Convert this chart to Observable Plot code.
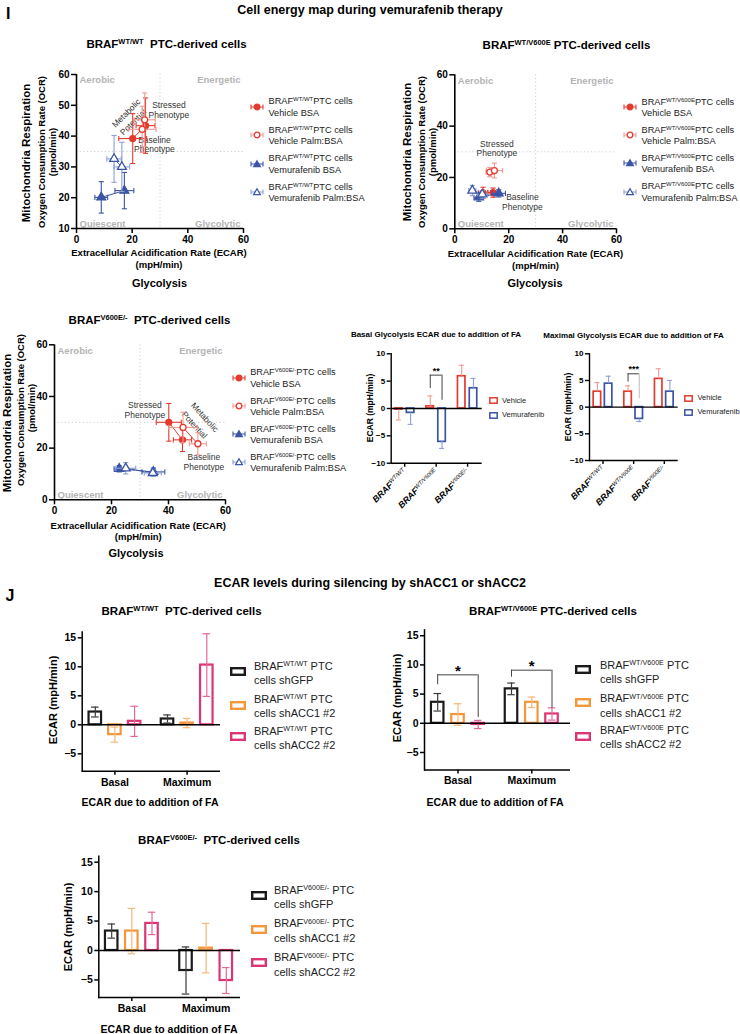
<!DOCTYPE html>
<html><head><meta charset="utf-8">
<script src="https://cdn.jsdelivr.net/npm/d3@7"></script>
<script src="https://cdn.jsdelivr.net/npm/@observablehq/plot@0.6"></script>
<style>
body{margin:0;background:#fff;font-family:"Liberation Sans",Arial,Helvetica,sans-serif;}
#fig{position:relative;width:740px;height:1034px;overflow:hidden;background:#fff;}
.t{position:absolute;white-space:nowrap;line-height:1;color:#000;}
.t sup{font-size:65%;vertical-align:baseline;position:relative;top:-0.5em;}
</style></head><body><div id="fig"></div>
<script>
// ================= DATA =================
// Panel I: cell energy maps (ECAR, OCR; mean ± SD), two states per series: baseline, stressed
const mapSeries = ["Vehicle BSA", "Vehicle Palm:BSA", "Vemurafenib BSA", "Vemurafenib Palm:BSA"];
const mapPhases = ["Baseline", "Stressed"];
// BRAF WT/WT
const wtEcar   = [[20.2, 24.8], [23.6, 24.5], [8.9, 17.2], [16.3, 13.5]];
const wtEcarSd = [[5.0, 3.4], [5.0, 3.8], [2.3, 3.4], [2.8, 2.6]];
const wtOcr    = [[39.2, 43.4], [42.2, 45.3], [20.1, 22.3], [30.0, 32.6]];
const wtOcrSd  = [[8.1, 9.0], [7.5, 8.7], [5.1, 5.9], [8.0, 7.6]];
// BRAF WT/V600E
const hetEcar   = [[10.5, 14.2], [13.0, 14.7], [8.9, 16.3], [6.5, 10.2]];
const hetEcarSd = [[1.8, 2.0], [1.4, 3.0], [1.8, 2.5], [1.3, 1.8]];
const hetOcr    = [[14.0, 14.1], [22.1, 22.7], [12.3, 13.8], [14.9, 13.4]];
const hetOcrSd  = [[2.2, 1.8], [1.8, 2.9], [1.6, 1.4], [2.0, 1.5]];
// BRAF V600E/-
const mutEcar   = [[40.1, 44.9], [45.1, 50.3], [22.7, 34.7], [25.0, 34.5]];
const mutEcarSd = [[4.4, 3.2], [5.0, 3.0], [1.8, 4.0], [3.5, 3.0]];
const mutOcr    = [[30.0, 23.2], [28.0, 21.7], [12.0, 10.8], [12.2, 10.4]];
const mutOcrSd  = [[7.3, 4.5], [5.9, 4.3], [1.2, 1.5], [2.2, 1.2]];

// Panel I: glycolysis ECAR change due to FA
const glyGroups = ["WT/WT", "WT/V600E", "V600E/-"];
const glySeries = ["Vehicle", "Vemurafenib"];
const basalVehicle = [-0.2, 0.4, 5.9];
const basalVehicleSd = [1.9, 1.9, 2.0];
const basalVemurafenib = [-0.8, -6.1, 3.7];
const basalVemurafenibSd = [2.1, 1.2, 1.8];
const maximalVehicle = [2.9, 2.9, 5.3];
const maximalVehicleSd = [1.7, 1.1, 1.9];
const maximalVemurafenib = [4.4, -2.2, 2.9];
const maximalVemurafenibSd = [1.4, 0.5, 2.1];
const basalSig = [{group: "WT/V600E", top: 6.1, lb: 3.65, rb: 1.5, label: "**"}];
const maximalSig = [{group: "WT/V600E", top: 6.25, lb: 4.7, rb: 1.56, label: "***"}];

// Panel J: ECAR due to FA during silencing (per series: [Basal, Maximum])
const faGroups = ["Basal", "Maximum"];
const shSeries = ["shGFP", "shACC1 #2", "shACC2 #2"];
const jWtMean  = [[2.2, 1.0], [-1.7, 0.3], [0.6, 10.3]];
const jWtSd    = [[0.85, 0.7], [1.3, 0.8], [2.6, 5.4]];
const jHetMean = [[3.6, 5.9], [1.5, 3.6], [-0.2, 1.6]];
const jHetSd   = [[1.5, 1.0], [1.85, 0.9], [0.7, 1.05]];
const jMutMean = [[3.3, -3.4], [3.3, 0.4], [4.6, -5.1]];
const jMutSd   = [[1.2, 4.0], [3.85, 4.2], [1.9, 2.2]];
const jHetSig  = [{group: "Basal", top: 8.3, lb: 6.6, rb: 1.0, label: "*"}, {group: "Maximum", top: 9.1, lb: 7.9, rb: 2.6, label: "*"}];

// ================= STYLE =================
const FONT = '"Liberation Sans", Arial, Helvetica, sans-serif';
const ns = "http://www.w3.org/2000/svg";
const RED = "#e53a2f", RED_L = "#f19a92", BLUE = "#3b54a5", BLUE_L = "#8e9fd5";
const mapColor = [RED, RED, BLUE, BLUE];
const mapErr = [RED, RED_L, BLUE, BLUE_L];
const mapFill = [RED, "white", BLUE, "white"];
const mapSymbol = ["circle", "circle", "triangle", "triangle"];
const shColor = ["#1b1b1b", "#f4963a", "#dc3575"];
const shErr = ["#3a3a3a", "#f6b878", "#e3689a"];
const baseStyle = {fontFamily: FONT, fontWeight: "bold", fontSize: "10px", color: "#000", background: "transparent", overflow: "visible"};

const fig = document.getElementById("fig");
function put(node, left, top) {
  node.style.position = "absolute"; node.style.left = left + "px"; node.style.top = top + "px";
  fig.appendChild(node); return node;
}
function label(html, x, y, o = {}) {
  const d = document.createElement("div");
  d.className = "t"; d.innerHTML = html;
  d.style.fontSize = (o.size || 10) + "px";
  d.style.fontWeight = o.weight || "normal";
  if (o.color) d.style.color = o.color;
  const a = o.anchor || "middle";
  const tx = a === "start" ? "0" : a === "end" ? "-100%" : "-50%";
  d.style.left = x + "px"; d.style.top = y + "px";
  d.style.transform = `translate(${tx},-50%)` + (o.rotate ? ` rotate(${o.rotate}deg)` : "");
  fig.appendChild(d);
}
function icon(svg, x, y, w, h) {
  const d = document.createElement("div");
  d.innerHTML = svg;
  d.style.width = w + "px"; d.style.height = h + "px"; d.style.lineHeight = "0";
  put(d, x, y - h / 2);
}
function supify(svg) {
  svg.querySelectorAll("text").forEach(t => {
    const s = t.textContent;
    if (!s.includes("^")) return;
    const [a, b] = s.split("^");
    while (t.firstChild) t.removeChild(t.firstChild);
    const t1 = document.createElementNS(ns, "tspan"); t1.textContent = a; t1.setAttribute("font-style", "italic");
    const t2 = document.createElementNS(ns, "tspan"); t2.textContent = b;
    t2.setAttribute("font-size", "64%"); t2.setAttribute("baseline-shift", "super");
    t2.setAttribute("font-style", "italic"); t2.setAttribute("font-weight", "normal");
    t.append(t1, t2);
  });
}
const capH = {draw(ctx, size) { const r = Math.sqrt(size / Math.PI); ctx.moveTo(-r, 0); ctx.lineTo(r, 0); }};
const capV = {draw(ctx, size) { const r = Math.sqrt(size / Math.PI); ctx.moveTo(0, -r); ctx.lineTo(0, r); }};

// ================= ENERGY MAP =================
function energyMap(c) {
  const rows = [];
  mapSeries.forEach((s, i) => mapPhases.forEach((p, j) => rows.push({si: i, series: s, phase: p,
    x: c.ecar[i][j], xsd: c.ecarSd[i][j], y: c.ocr[i][j], ysd: c.ocrSd[i][j]})));
  const quad = {text: d => d, fill: "#b4b4b4", fontWeight: "bold", fontSize: 9.5};
  const marks = [
    Plot.ruleX([30], {stroke: "#cfcfcf", strokeDasharray: "1.2,2.4"}),
    Plot.ruleY([c.midY], {stroke: "#cfcfcf", strokeDasharray: "1.2,2.4"}),
    Plot.text(["Aerobic"], {...quad, frameAnchor: "top-left", dx: 3, dy: 2}),
    Plot.text(["Energetic"], {...quad, frameAnchor: "top-right", dx: -3, dy: 2}),
    Plot.text(["Quiescent"], {...quad, frameAnchor: "bottom-left", dx: 3, dy: -2}),
    Plot.text(["Glycolytic"], {...quad, frameAnchor: "bottom-right", dx: -3, dy: -2}),
    Plot.text(c.notes, {x: "x", y: "y", text: "text", rotate: "rot", fontWeight: "normal", fontSize: 8.5, fill: "#333", lineHeight: 1.15})
  ];
  mapSeries.forEach((s, i) => {
    const d = rows.filter(r => r.si === i);
    const col = mapColor[i], e = mapErr[i];
    const ew = {stroke: e, strokeWidth: 1.1, fill: "none"};
    marks.push(
      Plot.line(d, {x: "x", y: "y", stroke: col, strokeWidth: 1}),
      Plot.link(d, {x1: r => r.x - r.xsd, x2: r => r.x + r.xsd, y1: "y", y2: "y", ...ew}),
      Plot.link(d, {x1: "x", x2: "x", y1: r => r.y - r.ysd, y2: r => r.y + r.ysd, ...ew}),
      Plot.dot(d, {x: r => r.x - r.xsd, y: "y", symbol: capV, r: 2.6, ...ew}),
      Plot.dot(d, {x: r => r.x + r.xsd, y: "y", symbol: capV, r: 2.6, ...ew}),
      Plot.dot(d, {x: "x", y: r => r.y - r.ysd, symbol: capH, r: 2.6, ...ew}),
      Plot.dot(d, {x: "x", y: r => r.y + r.ysd, symbol: capH, r: 2.6, ...ew}),
      Plot.dot(d, {x: "x", y: "y", symbol: mapSymbol[i], r: i < 2 ? 3.0 : 3.3, fill: mapFill[i], stroke: col, strokeWidth: 1.3})
    );
  });
  marks.push(
    Plot.ruleX([0], {stroke: "#000", strokeWidth: 1.6}),
    Plot.ruleY([c.yDomain[0]], {stroke: "#000", strokeWidth: 1.6}),
    Plot.axisX({ticks: [0, 20, 40, 60], tickSize: 5, tickPadding: 2, strokeWidth: 1.5, label: null, fontSize: 10}),
    Plot.axisY({ticks: c.yTicks, tickSize: 5, tickPadding: 2, strokeWidth: 1.5, label: null, fontSize: 10})
  );
  const svg = Plot.plot({width: c.width, height: c.height, marginLeft: c.mL, marginRight: c.mR, marginTop: c.mT, marginBottom: c.mB,
    x: {domain: [0, 60]}, y: {domain: c.yDomain}, style: baseStyle, marks});
  put(svg, c.left, c.top);
  // legend
  mapSeries.forEach((s, i) => {
    const y = c.legY[i];
    const col = mapColor[i], e = mapErr[i];
    const sym = i < 2
      ? `<circle cx="7" cy="5" r="2.8" fill="${mapFill[i]}" stroke="${col}" stroke-width="1.3"/>`
      : `<path d="M7,1.8L10.4,7.6H3.6Z" fill="${mapFill[i]}" stroke="${col}" stroke-width="1.2"/>`;
    icon(`<svg width="14" height="10"><path d="M1,5H13M1,2.6V7.4M13,2.6V7.4" stroke="${e}" stroke-width="1.1" fill="none"/>${sym}</svg>`, c.legX, y + 4.3, 14, 10);
    label(`BRAF<sup>${c.geno}</sup>PTC cells`, c.legX + 18.5, y, {size: 9.2, anchor: "start", color: "#222"});
    label(s, c.legX + 18.5, y + 11.3, {size: 9.2, anchor: "start", color: "#222"});
  });
}

// ================= GROUPED BARS =================
function groupedBars(c) {
  const n = c.centers.length;
  const step = (c.centers[n - 1] - c.centers[0]) / (n - 1);
  const range = [c.centers[0] - step / 2 - c.left, c.centers[n - 1] + step / 2 - c.left];
  const ins = (step - c.barW) / 2, capIns = (step - c.capW) / 2;
  const marks = [];
  c.series.forEach((s, k) => {
    const rows = c.groups.map((g, i) => ({group: g, v: s.values[i], sd: s.sd[i]}));
    const off = c.offsets[k];
    const hi = r => c.oneSided ? r.v + Math.sign(r.v) * r.sd : r.v + r.sd;
    const lo = r => c.oneSided ? r.v : r.v - r.sd;
    marks.push(
      Plot.barY(rows, {x: "group", y: "v", dx: off, insetLeft: ins, insetRight: ins, fill: "white", stroke: s.color, strokeWidth: c.barStroke}),
      Plot.ruleX(rows, {x: "group", y1: lo, y2: hi, dx: off, stroke: s.err, strokeWidth: c.errW}),
      Plot.tickY(rows, {x: "group", y: hi, dx: off, insetLeft: capIns, insetRight: capIns, stroke: s.err, strokeWidth: c.errW})
    );
    if (!c.oneSided) marks.push(Plot.tickY(rows, {x: "group", y: lo, dx: off, insetLeft: capIns, insetRight: capIns, stroke: s.err, strokeWidth: c.errW}));
  });
  (c.sig || []).forEach(b => {
    const d = [b];
    marks.push(
      Plot.ruleX(d, {x: "group", y1: "lb", y2: "top", dx: c.sigL, stroke: "#444", strokeWidth: 1}),
      Plot.ruleX(d, {x: "group", y1: "rb", y2: "top", dx: c.sigR, stroke: c.sigRColor || "#444", strokeWidth: 1}),
      Plot.tickY(d, {x: "group", y: "top", insetLeft: step / 2 + c.sigL, insetRight: step / 2 - c.sigR, stroke: "#444", strokeWidth: 1}),
      Plot.text(d, {x: "group", y: "top", text: "label", dx: (c.sigL + c.sigR) / 2, dy: c.starDy, fontSize: c.starSize, fontWeight: "bold"})
    );
  });
  marks.push(
    Plot.ruleY([0], {stroke: "#000", strokeWidth: c.axisW}),
    Plot.ruleY([c.yDomain[0]], {stroke: "#000", strokeWidth: c.axisW}),
    Plot.frame({anchor: "left", stroke: "#000", strokeWidth: c.axisW}),
    Plot.axisY({ticks: c.yTicks, tickSize: 4, tickPadding: 2, strokeWidth: c.axisW, label: null, fontSize: c.tickFont}),
    Plot.axisX({tickSize: 4, tickPadding: 3, strokeWidth: c.axisW, label: null, fontSize: c.xFont, tickRotate: c.tickRotate || 0, tickFormat: c.tickFormat})
  );
  const svg = Plot.plot({width: c.width, height: c.height, marginLeft: c.mL, marginRight: c.mR, marginTop: c.mT, marginBottom: c.mB,
    x: {type: "band", domain: c.groups, range, padding: 0, round: false}, y: {domain: c.yDomain}, style: baseStyle, marks});
  if (c.sup) supify(svg);
  put(svg, c.left, c.top);
}

// ================= PANEL I =================
label("I", 8.3, 14, {size: 16, weight: "bold"});
label("Cell energy map during vemurafenib therapy", 370, 9.5, {size: 12.5, weight: "bold"});

label("BRAF<sup>WT/WT</sup>&nbsp;&nbsp;PTC-derived cells", 166.5, 45, {size: 11.5, weight: "bold"});
energyMap({left: 0, top: 60, width: 250, height: 195, mL: 76, mR: 7, mT: 14, mB: 27,
  yDomain: [10, 60], yTicks: [10, 20, 30, 40, 50, 60], midY: 35,
  ecar: wtEcar, ecarSd: wtEcarSd, ocr: wtOcr, ocrSd: wtOcrSd, geno: "WT/WT",
  notes: [{text: "Stressed\nPhenotype", x: 33.2, y: 48.6, rot: 0}, {text: "Baseline\nPhenotype", x: 28.0, y: 37.3, rot: 0},
          {text: "Metabolic", x: 17.8, y: 47.5, rot: -45}, {text: "Potential", x: 20.3, y: 44.6, rot: -45}],
  legX: 250, legY: [102.3, 131, 159.3, 187.7]});
label("Extracellular Acidification Rate (ECAR)", 159, 253, {size: 9.5, weight: "bold"});
label("(mpH/min)", 159, 265, {size: 9.5, weight: "bold"});
label("Glycolysis", 159.5, 283, {size: 11, weight: "bold"});
label("Mitochondria Respiration", 27, 152.5, {size: 11.5, weight: "bold", rotate: -90});
label("Oxygen Consumption Rate (OCR)", 42, 152, {size: 9.5, weight: "bold", rotate: -90});
label("(pmol/min)", 52.5, 152, {size: 9.5, weight: "bold", rotate: -90});

label("BRAF<sup>WT/V600E</sup> PTC-derived cells", 566.5, 46, {size: 11.5, weight: "bold"});
energyMap({left: 380, top: 60, width: 250, height: 195, mL: 74.3, mR: 14, mT: 14.3, mB: 26.7,
  yDomain: [0, 60], yTicks: [0, 20, 40, 60], midY: 30,
  ecar: hetEcar, ecarSd: hetEcarSd, ocr: hetOcr, ocrSd: hetOcrSd, geno: "WT/V600E",
  notes: [{text: "Stressed\nPhenotype", x: 15.6, y: 31.3, rot: 0}, {text: "Baseline\nPhenotype", x: 25.1, y: 10.4, rot: 0}],
  legX: 623, legY: [102.7, 130.7, 159, 187.3]});
label("Extracellular Acidification Rate (ECAR)", 535.5, 254, {size: 9.5, weight: "bold"});
label("(mpH/min)", 535.5, 266, {size: 9.5, weight: "bold"});
label("Glycolysis", 535, 283, {size: 11, weight: "bold"});
label("Mitochondria Respiration", 408, 151.5, {size: 11.5, weight: "bold", rotate: -90});
label("Oxygen Consumption Rate (OCR)", 422, 151.5, {size: 9.5, weight: "bold", rotate: -90});
label("(pmol/min)", 433, 151.5, {size: 9.5, weight: "bold", rotate: -90});

label("BRAF<sup>V600E/-</sup>&nbsp;&nbsp;PTC-derived cells", 149.5, 320.7, {size: 11.5, weight: "bold"});
energyMap({left: 0, top: 330, width: 235, height: 195, mL: 54, mR: 10, mT: 14.3, mB: 25.7,
  yDomain: [0, 60], yTicks: [0, 20, 40, 60], midY: 30,
  ecar: mutEcar, ecarSd: mutEcarSd, ocr: mutOcr, ocrSd: mutOcrSd, geno: "V600E/-",
  notes: [{text: "Stressed\nPhenotype", x: 31.7, y: 34.8, rot: 0}, {text: "Baseline\nPhenotype", x: 52.4, y: 14.6, rot: 0},
          {text: "Metabolic", x: 52.8, y: 32.0, rot: 48}, {text: "Potential", x: 49.2, y: 29.0, rot: 48}],
  legX: 231.7, legY: [373.3, 401.7, 430, 457.7]});
label("Extracellular Acidification Rate (ECAR)", 138.3, 525.7, {size: 9.5, weight: "bold"});
label("(mpH/min)", 138.3, 537, {size: 9.5, weight: "bold"});
label("Glycolysis", 136, 553, {size: 11, weight: "bold"});
label("Mitochondria Respiration", 7.5, 423, {size: 11.5, weight: "bold", rotate: -90});
label("Oxygen Consumption Rate (OCR)", 20.7, 410, {size: 9.5, weight: "bold", rotate: -90});
label("(pmol/min)", 31.7, 408, {size: 9.5, weight: "bold", rotate: -90});

// Glycolysis bar charts
const glyCommon = {groups: glyGroups, width: 145, height: 170, oneSided: true, barW: 7.5, capW: 5, barStroke: 1.7, errW: 1.1, axisW: 1.4,
  yDomain: [-10, 10], yTicks: [-10, -5, 0, 5, 10], tickFont: 8, xFont: 8.8, tickRotate: -45, tickFormat: d => "BRAF^" + d, sup: true,
  sigL: -5.9, sigR: 5.9, starSize: 9, starDy: -4.5};
label("Basal Glycolysis ECAR due to addition of FA", 436, 335, {size: 8, weight: "bold"});
groupedBars({...glyCommon, left: 340, top: 345, mL: 50.7, mR: 3.3, mT: 8.3, mB: 52.3,
  centers: [404.2, 435.8, 467.1], offsets: [-5.9, 5.9],
  series: [{values: basalVehicle, sd: basalVehicleSd, color: RED, err: RED_L}, {values: basalVemurafenib, sd: basalVemurafenibSd, color: BLUE, err: BLUE_L}],
  sig: basalSig});
label("ECAR (mpH/min)", 370, 407.5, {size: 8.5, weight: "bold", rotate: -90});

label("Maximal Glycolysis ECAR due to addition of FA", 633.5, 336, {size: 8, weight: "bold"});
groupedBars({...glyCommon, left: 535, top: 345, mL: 54, mR: 2.3, mT: 8.3, mB: 55,
  centers: [602.5, 633.3, 663.8], offsets: [-5.6, 5.6], sigL: -5.6, sigR: 5.6, sigRColor: "#bbb",
  series: [{values: maximalVehicle, sd: maximalVehicleSd, color: RED, err: RED_L}, {values: maximalVemurafenib, sd: maximalVemurafenibSd, color: BLUE, err: BLUE_L}],
  sig: maximalSig});
label("ECAR (mpH/min)", 568.3, 406.7, {size: 8.5, weight: "bold", rotate: -90});

function glyLegend(x, ys) {
  glySeries.forEach((s, i) => {
    const col = i === 0 ? RED : BLUE;
    icon(`<svg width="9" height="7"><rect x="0.8" y="0.8" width="7.4" height="5.4" fill="white" stroke="${col}" stroke-width="1.5"/></svg>`, x, ys[i], 9, 7);
    label(s, x + 13.5, ys[i], {size: 7.5, anchor: "start", color: "#222"});
  });
}
glyLegend(488.5, [400.7, 415]);
glyLegend(684, [398.3, 412.3]);

// ================= PANEL J =================
label("J", 10, 596, {size: 16, weight: "bold"});
label("ECAR levels during silencing by shACC1 or shACC2", 370, 583, {size: 12.5, weight: "bold"});

const jCommon = {groups: faGroups, oneSided: false, barW: 12.5, capW: 7.5, barStroke: 2.2, errW: 1.2, axisW: 1.5,
  yDomain: [-8, 16], yTicks: [-5, 0, 5, 10, 15], tickFont: 10.5, xFont: 10.5};
function jSeries(mean, sd) { return shSeries.map((s, k) => ({values: mean[k], sd: sd[k], color: shColor[k], err: shErr[k]})); }
function jLegend(geno, sx, tx, items) {
  shSeries.forEach((s, k) => {
    const [y1, sy] = items[k];
    icon(`<svg width="16" height="9"><rect x="1.2" y="1.2" width="13.6" height="6.6" fill="white" stroke="${shColor[k]}" stroke-width="2.4"/></svg>`, sx, sy, 16, 9);
    label(`BRAF<sup>${geno}</sup> PTC`, tx, y1, {size: 11, anchor: "start", color: "#222"});
    label(`cells ${s}`, tx, y1 + 13.5, {size: 11, anchor: "start", color: "#222"});
  });
}

label("BRAF<sup>WT/WT</sup>&nbsp;&nbsp;PTC-derived cells", 181.5, 611.7, {size: 11.5, weight: "bold"});
groupedBars({...jCommon, left: 0, top: 625, width: 225, height: 170, mL: 81.7, mR: 5, mT: 6.5, mB: 24.3,
  centers: [114.4, 186.6], offsets: [-19.6, 0, 19.7], series: jSeries(jWtMean, jWtSd)});
label("ECAR (mpH/min)", 53.3, 700, {size: 11, weight: "bold", rotate: -90});
label("ECAR due to addition of FA", 150, 801.7, {size: 10.5, weight: "bold"});
jLegend("WT/WT", 229.5, 254, [[666.5, 671.7], [699.8, 705], [731.5, 736.7]]);

label("BRAF<sup>WT/V600E</sup> PTC-derived cells", 553, 611.7, {size: 11.5, weight: "bold"});
groupedBars({...jCommon, left: 370, top: 625, width: 205, height: 170, mL: 54, mR: 5, mT: 4.4, mB: 25.5,
  centers: [457.5, 531.3], offsets: [-20.3, 0, 20.2], series: jSeries(jHetMean, jHetSd),
  sig: jHetSig, sigL: -20.3, sigR: 20.2, starSize: 15, starDy: -3.5});
label("ECAR (mpH/min)", 396.7, 698, {size: 11, weight: "bold", rotate: -90});
label("ECAR due to addition of FA", 495, 801.7, {size: 10.5, weight: "bold"});
jLegend("WT/V600E", 574.5, 600, [[665.8, 669.3], [699.2, 702.7], [730.5, 736.7]]);

label("BRAF<sup>V600E/-</sup>&nbsp;&nbsp;PTC-derived cells", 219, 840.7, {size: 11.5, weight: "bold"});
groupedBars({...jCommon, left: 0, top: 850, width: 245, height: 175, mL: 98.3, mR: 5, mT: 5.8, mB: 27.9,
  centers: [131.3, 205.6], offsets: [-20.1, 0, 20.2], series: jSeries(jMutMean, jMutSd)});
label("ECAR (mpH/min)", 68.3, 926.7, {size: 11, weight: "bold", rotate: -90});
label("ECAR due to addition of FA", 169, 1029.3, {size: 10.5, weight: "bold"});
jLegend("V600E/-", 251, 274, [[890.5, 895], [924.2, 929.3], [958.2, 962.7]]);
</script></body></html>
